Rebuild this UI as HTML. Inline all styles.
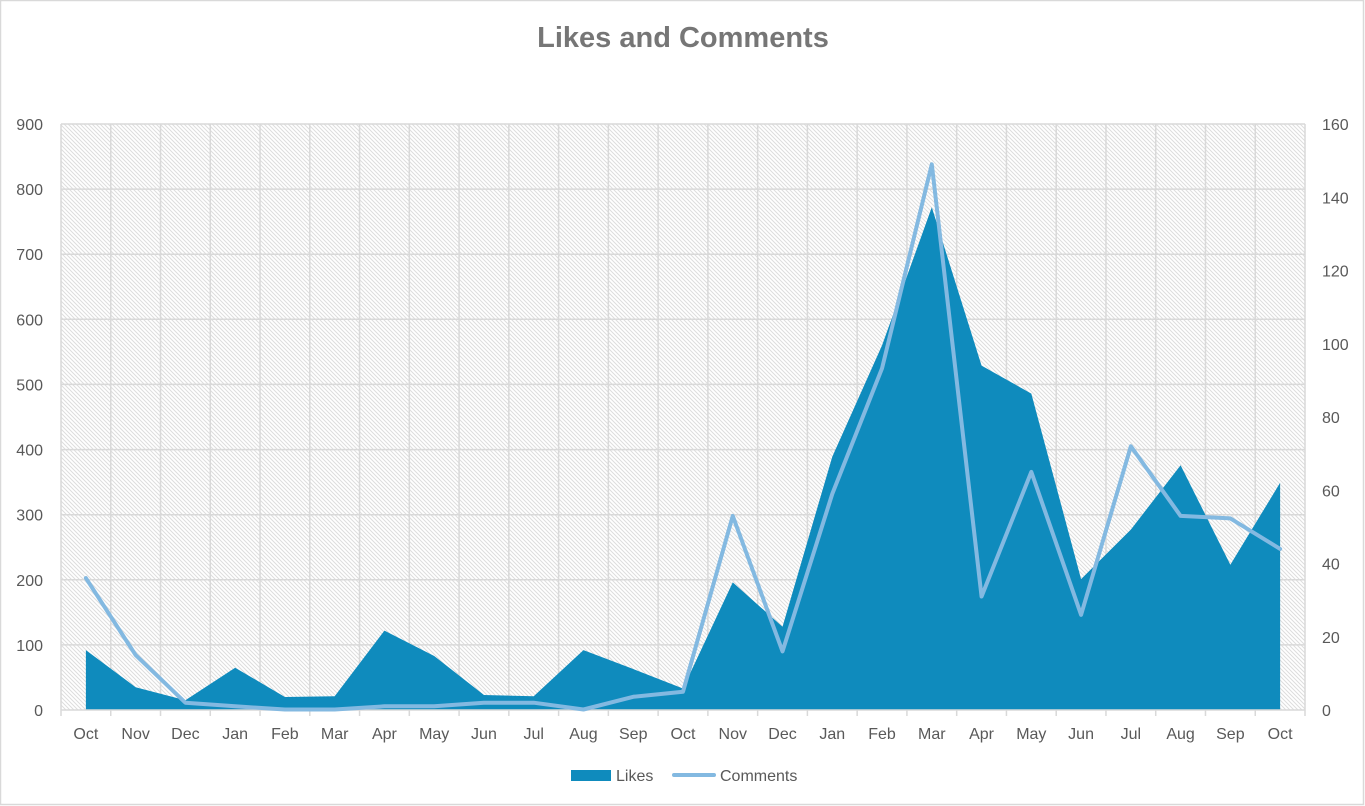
<!DOCTYPE html>
<html>
<head>
<meta charset="utf-8">
<style>
  html, body { margin: 0; padding: 0; background: #ffffff; }
  body { width: 1365px; height: 806px; overflow: hidden; }
  svg { display: block; }
  text { font-family: "Liberation Sans", sans-serif; }
</style>
</head>
<body>
<svg width="1365" height="806" viewBox="0 0 1365 806" xmlns="http://www.w3.org/2000/svg">
  <defs>
    <pattern id="hatch" patternUnits="userSpaceOnUse" width="4" height="4">
      <rect x="0" y="0" width="4" height="4" fill="#ffffff"/>
      <path d="M-1,-1 L5,5 M-1,3 L1,5 M3,-1 L5,1" stroke="#dddddd" stroke-width="1"/>
    </pattern>
  </defs>

  <!-- outer border -->
  <rect x="0.5" y="0.5" width="1363" height="804" fill="#ffffff" stroke="#d9d9d9" stroke-width="1.5"/>

  <!-- title -->
  <text x="683" y="47" text-anchor="middle" font-size="29" font-weight="bold" fill="#767676">Likes and Comments</text>

  <!-- plot background -->
  <rect x="61" y="124" width="1244" height="586" fill="url(#hatch)"/>

  <!-- gridlines -->
  <g stroke="#d9d9d9" stroke-width="1.5">
    <line x1="61" y1="124" x2="1305" y2="124"/>
    <line x1="61" y1="189.1" x2="1305" y2="189.1"/>
    <line x1="61" y1="254.2" x2="1305" y2="254.2"/>
    <line x1="61" y1="319.3" x2="1305" y2="319.3"/>
    <line x1="61" y1="384.4" x2="1305" y2="384.4"/>
    <line x1="61" y1="449.6" x2="1305" y2="449.6"/>
    <line x1="61" y1="514.7" x2="1305" y2="514.7"/>
    <line x1="61" y1="579.8" x2="1305" y2="579.8"/>
    <line x1="61" y1="644.9" x2="1305" y2="644.9"/>

    <line x1="61" y1="124" x2="61" y2="716"/>
    <line x1="110.76" y1="124" x2="110.76" y2="716"/>
    <line x1="160.52" y1="124" x2="160.52" y2="716"/>
    <line x1="210.28" y1="124" x2="210.28" y2="716"/>
    <line x1="260.04" y1="124" x2="260.04" y2="716"/>
    <line x1="309.8" y1="124" x2="309.8" y2="716"/>
    <line x1="359.56" y1="124" x2="359.56" y2="716"/>
    <line x1="409.32" y1="124" x2="409.32" y2="716"/>
    <line x1="459.08" y1="124" x2="459.08" y2="716"/>
    <line x1="508.84" y1="124" x2="508.84" y2="716"/>
    <line x1="558.6" y1="124" x2="558.6" y2="716"/>
    <line x1="608.36" y1="124" x2="608.36" y2="716"/>
    <line x1="658.12" y1="124" x2="658.12" y2="716"/>
    <line x1="707.88" y1="124" x2="707.88" y2="716"/>
    <line x1="757.64" y1="124" x2="757.64" y2="716"/>
    <line x1="807.4" y1="124" x2="807.4" y2="716"/>
    <line x1="857.16" y1="124" x2="857.16" y2="716"/>
    <line x1="906.92" y1="124" x2="906.92" y2="716"/>
    <line x1="956.68" y1="124" x2="956.68" y2="716"/>
    <line x1="1006.44" y1="124" x2="1006.44" y2="716"/>
    <line x1="1056.2" y1="124" x2="1056.2" y2="716"/>
    <line x1="1105.96" y1="124" x2="1105.96" y2="716"/>
    <line x1="1155.72" y1="124" x2="1155.72" y2="716"/>
    <line x1="1205.48" y1="124" x2="1205.48" y2="716"/>
    <line x1="1255.24" y1="124" x2="1255.24" y2="716"/>
    <line x1="1305" y1="124" x2="1305" y2="716"/>
  </g>

  <!-- Likes area -->
  <polygon fill="#0f8bbd" points="
    85.88,710 85.88,650.1 135.64,687.2 185.4,700.2 235.16,667.7 284.92,697.0 334.68,696.3
    384.44,630.6 434.2,656.0 483.96,695.0 533.72,696.3 583.48,650.1 633.24,669.0 683.0,688.5
    732.76,582.4 782.52,626.7 832.28,456.7 882.04,345.4 931.8,207.3 981.56,365.6 1031.32,393.6
    1081.08,579.1 1130.84,529.6 1180.6,465.2 1230.36,564.8 1280.12,482.8 1280.12,710"/>

  <!-- x axis line -->
  <line x1="61" y1="710" x2="1305" y2="710" stroke="#d9d9d9" stroke-width="1.5"/>

  <!-- Comments line -->
  <polyline fill="none" stroke="#83b9e1" stroke-width="4" stroke-linejoin="round" stroke-linecap="round" points="
    85.88,578.1 135.64,655.1 185.4,702.7 235.16,706.3 284.92,709.5 334.68,709.5
    384.44,706.3 434.2,706.3 483.96,702.7 533.72,702.7 583.48,709.5 633.24,696.8 683.0,691.7
    732.76,515.9 782.52,651.4 832.28,493.9 882.04,368.3 931.8,164.3 981.56,596.5 1031.32,471.9
    1081.08,614.8 1130.84,446.3 1180.6,515.9 1230.36,518.4 1280.12,548.9"/>

  <!-- left axis labels -->
  <g font-size="16" fill="#595959" text-anchor="end">
    <text x="43" y="130">900</text>
    <text x="43" y="195.1">800</text>
    <text x="43" y="260.2">700</text>
    <text x="43" y="325.3">600</text>
    <text x="43" y="390.4">500</text>
    <text x="43" y="455.6">400</text>
    <text x="43" y="520.7">300</text>
    <text x="43" y="585.8">200</text>
    <text x="43" y="650.9">100</text>
    <text x="43" y="716">0</text>
  </g>

  <!-- right axis labels -->
  <g font-size="16" fill="#595959" text-anchor="start">
    <text x="1322" y="130">160</text>
    <text x="1322" y="203.25">140</text>
    <text x="1322" y="276.5">120</text>
    <text x="1322" y="349.75">100</text>
    <text x="1322" y="423">80</text>
    <text x="1322" y="496.25">60</text>
    <text x="1322" y="569.5">40</text>
    <text x="1322" y="642.75">20</text>
    <text x="1322" y="716">0</text>
  </g>

  <!-- x axis labels -->
  <g font-size="16" fill="#595959" text-anchor="middle">
    <text x="85.88" y="739">Oct</text>
    <text x="135.64" y="739">Nov</text>
    <text x="185.4" y="739">Dec</text>
    <text x="235.16" y="739">Jan</text>
    <text x="284.92" y="739">Feb</text>
    <text x="334.68" y="739">Mar</text>
    <text x="384.44" y="739">Apr</text>
    <text x="434.2" y="739">May</text>
    <text x="483.96" y="739">Jun</text>
    <text x="533.72" y="739">Jul</text>
    <text x="583.48" y="739">Aug</text>
    <text x="633.24" y="739">Sep</text>
    <text x="683.0" y="739">Oct</text>
    <text x="732.76" y="739">Nov</text>
    <text x="782.52" y="739">Dec</text>
    <text x="832.28" y="739">Jan</text>
    <text x="882.04" y="739">Feb</text>
    <text x="931.8" y="739">Mar</text>
    <text x="981.56" y="739">Apr</text>
    <text x="1031.32" y="739">May</text>
    <text x="1081.08" y="739">Jun</text>
    <text x="1130.84" y="739">Jul</text>
    <text x="1180.6" y="739">Aug</text>
    <text x="1230.36" y="739">Sep</text>
    <text x="1280.12" y="739">Oct</text>
  </g>

  <!-- legend -->
  <rect x="571" y="770" width="40" height="11" fill="#0f8bbd"/>
  <text x="616" y="781" font-size="16" fill="#595959">Likes</text>
  <line x1="674" y1="775" x2="714" y2="775" stroke="#83b9e1" stroke-width="4" stroke-linecap="round"/>
  <text x="720" y="781" font-size="16" fill="#595959">Comments</text>
</svg>
</body>
</html>
